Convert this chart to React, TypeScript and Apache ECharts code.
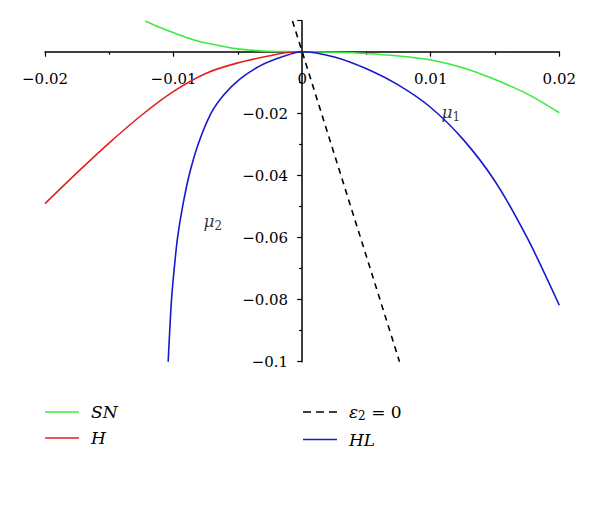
import React, { useEffect, useRef } from "react";
import * as echarts from "echarts";

// SN curve (green)
const snX = [-0.0122, -0.011, -0.01, -0.009, -0.008, -0.007, -0.006, -0.005, -0.004, -0.003, -0.002, -0.001, 0, 0.0025, 0.005, 0.0075, 0.01, 0.0125, 0.015, 0.0175, 0.02];
const snY = [0.0099, 0.0077, 0.0061, 0.0046, 0.0033, 0.0024, 0.0016, 0.0009, 0.0005, 0.0002, 0.00006, 0.00001, 0, -0.0002, -0.0006, -0.0014, -0.0027, -0.0052, -0.0090, -0.0136, -0.0197];

// H curve (red)
const hX = [-0.02, -0.0175, -0.015, -0.0125, -0.01, -0.0075, -0.005, -0.0025, -0.001, 0];
const hY = [-0.049, -0.039, -0.0294, -0.0205, -0.0128, -0.0070, -0.0036, -0.0013, -0.0002, 0];

// HL curve (blue)
const hlX = [-0.01042, -0.0103, -0.01016, -0.00995, -0.00969, -0.0093, -0.0088, -0.0081, -0.0071, -0.0061, -0.0048, -0.0032, -0.0016, 0, 0.0025, 0.005, 0.0075, 0.01, 0.0125, 0.015, 0.0175, 0.02];
const hlY = [-0.1, -0.09, -0.08, -0.07, -0.06, -0.05, -0.04, -0.03, -0.02, -0.014, -0.0087, -0.0044, -0.0017, 0, -0.0017, -0.0055, -0.0108, -0.018, -0.0282, -0.0418, -0.06, -0.0818];

// epsilon_2 = 0 line (dashed)
const epsX = [-0.00075, 0.00757];
const epsY = [0.0099, -0.1];

// axis labels
const xTickLabels = [-0.02, -0.01, 0, 0.01, 0.02];
const yTickLabels = [-0.1, -0.08, -0.06, -0.04, -0.02];

// annotation positions (data coordinates)
const mu1Pos = [0.01157, -0.0195];
const mu2Pos = [-0.00695, -0.0547];

const SERIF = "'DejaVu Serif', 'Liberation Serif', serif";

const GRID = { left: 45, right: 40.7, top: 20.7, bottom: 164.3 };
const PLOT_W = 600 - GRID.left - GRID.right;
const PLOT_H = 526 - GRID.top - GRID.bottom;
const X_MIN = -0.02, X_MAX = 0.02, Y_MIN = -0.1, Y_MAX = 0.01;
// shift the axes so that they cross at the origin
const xAxisOffset = -PLOT_H * (0 - Y_MIN) / (Y_MAX - Y_MIN);
const yAxisOffset = -PLOT_W * (0 - X_MIN) / (X_MAX - X_MIN);

const zip = (xs: number[], ys: number[]) => xs.map((x, i) => [x, ys[i]]);
const fmt = (v: number) => {
  const r = Math.round(v * 1000) / 1000;
  return String(r).replace("-", "\u2212");
};
const near = (v: number, list: number[]) => list.some((t) => Math.abs(t - v) < 1e-9);

const legendRich = {
  i: { fontFamily: SERIF, fontStyle: "italic" as const, fontSize: 17, color: "#000", lineHeight: 20 },
  u: { fontFamily: SERIF, fontSize: 17, color: "#000", lineHeight: 20 },
  s: { fontFamily: SERIF, fontSize: 12, color: "#000", lineHeight: 20, verticalAlign: "bottom" as const },
};

const legendFormatter = (name: string) => {
  if (name === "ε2 = 0") return "{i|ε}{s|2}{u| = 0}";
  return "{i|" + name + "}";
};

const DASH_ICON = "path://M0,0h8v1.6h-8z M13,0h8v1.6h-8z M26,0h8v1.6h-8z";

export default function App() {
  const ref = useRef<HTMLDivElement>(null);
  useEffect(() => {
    if (!ref.current) return;
    const chart = echarts.init(ref.current, undefined, { renderer: "svg" });
    const muRich = {
      m: { fontFamily: SERIF, fontStyle: "italic" as const, fontSize: 17, color: "#000", lineHeight: 22 },
      s: { fontFamily: SERIF, fontSize: 12, color: "#000", lineHeight: 22, verticalAlign: "bottom" as const },
    };
    const legendBase = {
      orient: "vertical",
      top: 403.5,
      padding: 0,
      itemWidth: 34,
      itemHeight: 1.6,
      itemGap: 9,
      formatter: legendFormatter,
      textStyle: { padding: [0, 0, 0, 7], rich: legendRich },
    };
    chart.setOption({
      animation: false,
      backgroundColor: "#fff",
      grid: { ...GRID, containLabel: false, outerBoundsMode: "none" },
      xAxis: {
        type: "value",
        min: X_MIN,
        max: X_MAX,
        interval: 0.01,
        position: "bottom",
        offset: xAxisOffset,
        axisLine: { onZero: false, lineStyle: { color: "#000", width: 1.5 } },
        axisTick: { show: true, length: 5, lineStyle: { color: "#000", width: 1.2 } },
        minorTick: { show: true, splitNumber: 2, length: 3, lineStyle: { color: "#000", width: 1.2 } },
        splitLine: { show: false },
        axisLabel: {
          margin: 20,
          fontFamily: SERIF,
          fontSize: 15,
          color: "#000",
          formatter: (v: number) => (near(v, xTickLabels) ? fmt(v) : ""),
        },
      },
      yAxis: {
        type: "value",
        min: Y_MIN,
        max: Y_MAX,
        interval: 0.02,
        position: "left",
        offset: yAxisOffset,
        axisLine: { onZero: false, lineStyle: { color: "#000", width: 1.5 } },
        axisTick: { show: true, length: 5, lineStyle: { color: "#000", width: 1.2 } },
        minorTick: { show: true, splitNumber: 2, length: 3, lineStyle: { color: "#000", width: 1.2 } },
        splitLine: { show: false },
        axisLabel: {
          margin: 14,
          fontFamily: SERIF,
          fontSize: 15,
          color: "#000",
          formatter: (v: number) => (near(v, yTickLabels) ? fmt(v) : ""),
        },
      },
      legend: [
        {
          ...legendBase,
          left: 45,
          data: [
            { name: "SN", icon: "rect" },
            { name: "H", icon: "rect" },
          ],
        },
        {
          ...legendBase,
          left: 303,
          data: [
            { name: "ε2 = 0", icon: DASH_ICON },
            { name: "HL", icon: "rect" },
          ],
        },
      ],
      series: [
        {
          name: "SN",
          type: "line",
          data: zip(snX, snY),
          symbol: "none",
          smooth: 0.3,
          lineStyle: { color: "#3ee83e", width: 1.6 },
          itemStyle: { color: "#3ee83e" },
          z: 3,
        },
        {
          name: "H",
          type: "line",
          data: zip(hX, hY),
          symbol: "none",
          smooth: 0.3,
          lineStyle: { color: "#e2211f", width: 1.6 },
          itemStyle: { color: "#e2211f" },
          z: 3,
        },
        {
          name: "ε2 = 0",
          type: "line",
          data: zip(epsX, epsY),
          symbol: "none",
          lineStyle: { color: "#000", width: 1.6, type: [6, 5] },
          itemStyle: { color: "#000" },
          z: 3,
        },
        {
          name: "HL",
          type: "line",
          data: zip(hlX, hlY),
          symbol: "none",
          smooth: 0.3,
          lineStyle: { color: "#1818cc", width: 1.6 },
          itemStyle: { color: "#1818cc" },
          z: 3,
        },
        {
          name: "labels",
          type: "scatter",
          symbolSize: 0,
          silent: true,
          data: [
            { value: mu1Pos, label: { formatter: "{m|μ}{s|1}" } },
            { value: mu2Pos, label: { formatter: "{m|μ}{s|2}" } },
          ],
          label: { show: true, position: "inside", rich: muRich },
        },
      ],
    });
    return () => chart.dispose();
  }, []);
  return (
    <div
      ref={ref}
      style={{ position: "absolute", left: 0, top: 0, width: 600, height: 526, background: "#fff" }}
    />
  );
}
